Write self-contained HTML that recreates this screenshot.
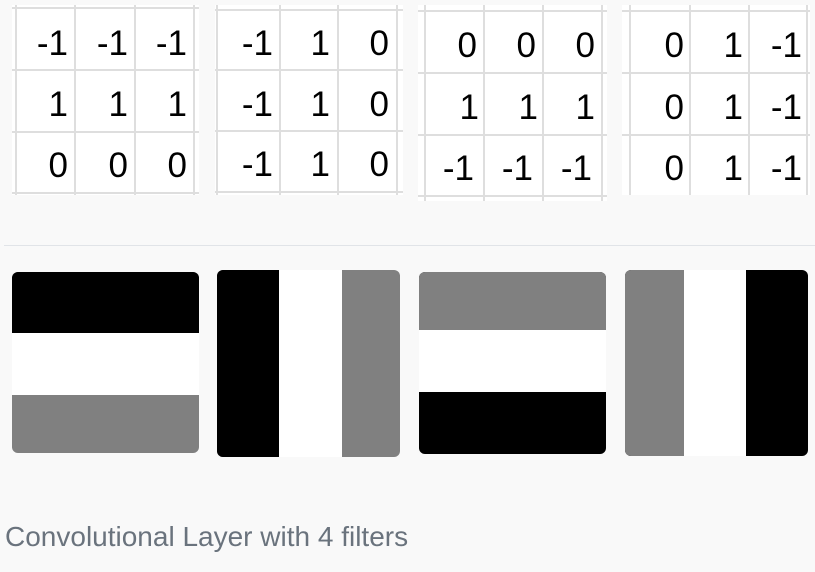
<!DOCTYPE html>
<html><head><meta charset="utf-8"><style>
body{margin:0;width:815px;height:572px;background:#f9f9f9;position:relative;overflow:hidden;font-family:"Liberation Sans",sans-serif}
.t{position:absolute;background:#fff}
.v{position:absolute;width:2px;background:#dedede}
.h{position:absolute;height:2px;background:#dedede}
.n{position:absolute;font-size:35px;color:#000;text-align:right;width:56px;line-height:40px}
.img{position:absolute;border-radius:6px;overflow:hidden}
.img div{position:absolute}
</style></head><body>

<div class="t" style="left:12px;top:5px;width:187px;height:190px"></div>
<div class="v" style="left:15px;top:5px;height:190px"></div>
<div class="v" style="left:74px;top:5px;height:190px"></div>
<div class="v" style="left:134px;top:5px;height:190px"></div>
<div class="v" style="left:193px;top:5px;height:190px"></div>
<div class="h" style="left:12px;top:7px;width:187px"></div>
<div class="h" style="left:12px;top:69px;width:187px"></div>
<div class="h" style="left:12px;top:131px;width:187px"></div>
<div class="h" style="left:12px;top:192px;width:187px"></div>

<div class="t" style="left:215px;top:5px;width:188px;height:190px"></div>
<div class="v" style="left:216px;top:5px;height:190px"></div>
<div class="v" style="left:279px;top:5px;height:190px"></div>
<div class="v" style="left:337px;top:5px;height:190px"></div>
<div class="v" style="left:396px;top:5px;height:190px"></div>
<div class="h" style="left:215px;top:9px;width:188px"></div>
<div class="h" style="left:215px;top:69px;width:188px"></div>
<div class="h" style="left:215px;top:130px;width:188px"></div>
<div class="h" style="left:215px;top:191px;width:188px"></div>

<div class="t" style="left:418px;top:5px;width:189px;height:196px"></div>
<div class="v" style="left:424px;top:5px;height:196px"></div>
<div class="v" style="left:483px;top:5px;height:196px"></div>
<div class="v" style="left:542px;top:5px;height:196px"></div>
<div class="v" style="left:601px;top:5px;height:196px"></div>
<div class="h" style="left:418px;top:10px;width:189px"></div>
<div class="h" style="left:418px;top:72px;width:189px"></div>
<div class="h" style="left:418px;top:134px;width:189px"></div>
<div class="h" style="left:418px;top:195px;width:189px"></div>

<div class="t" style="left:622px;top:5px;width:188px;height:190px"></div>
<div class="v" style="left:629px;top:5px;height:190px"></div>
<div class="v" style="left:689px;top:5px;height:190px"></div>
<div class="v" style="left:748px;top:5px;height:190px"></div>
<div class="v" style="left:806px;top:5px;height:190px"></div>
<div class="h" style="left:622px;top:10px;width:188px"></div>
<div class="h" style="left:622px;top:72px;width:188px"></div>
<div class="h" style="left:622px;top:134px;width:188px"></div>

<div class="n" style="left:12px;top:24px">-1</div><div class="n" style="left:72px;top:24px">-1</div><div class="n" style="left:131px;top:24px">-1</div>
<div class="n" style="left:12px;top:85px">1</div><div class="n" style="left:72px;top:85px">1</div><div class="n" style="left:131px;top:85px">1</div>
<div class="n" style="left:12px;top:146px">0</div><div class="n" style="left:72px;top:146px">0</div><div class="n" style="left:131px;top:146px">0</div>
<div class="n" style="left:217px;top:24px">-1</div><div class="n" style="left:274px;top:24px">1</div><div class="n" style="left:333px;top:24px">0</div>
<div class="n" style="left:217px;top:85px">-1</div><div class="n" style="left:274px;top:85px">1</div><div class="n" style="left:333px;top:85px">0</div>
<div class="n" style="left:217px;top:145px">-1</div><div class="n" style="left:274px;top:145px">1</div><div class="n" style="left:333px;top:145px">0</div>
<div class="n" style="left:421px;top:26px">0</div><div class="n" style="left:480px;top:26px">0</div><div class="n" style="left:539px;top:26px">0</div>
<div class="n" style="left:423px;top:88px">1</div><div class="n" style="left:482px;top:88px">1</div><div class="n" style="left:539px;top:88px">1</div>
<div class="n" style="left:418px;top:149px">-1</div><div class="n" style="left:477px;top:149px">-1</div><div class="n" style="left:536px;top:149px">-1</div>
<div class="n" style="left:628px;top:26px">0</div><div class="n" style="left:687px;top:26px">1</div><div class="n" style="left:746px;top:26px">-1</div>
<div class="n" style="left:628px;top:88px">0</div><div class="n" style="left:687px;top:88px">1</div><div class="n" style="left:746px;top:88px">-1</div>
<div class="n" style="left:628px;top:149px">0</div><div class="n" style="left:687px;top:149px">1</div><div class="n" style="left:746px;top:149px">-1</div>

<div style="position:absolute;left:4px;top:245px;width:811px;height:1px;background:#e1e4e8"></div>

<div class="img" style="left:12px;top:272px;width:187px;height:181px;background:#808080">
<div style="left:0;top:0;width:187px;height:61px;background:#000"></div>
<div style="left:0;top:61px;width:187px;height:62px;background:#fff"></div>
</div>
<div class="img" style="left:217px;top:270px;width:183px;height:187px;background:#808080">
<div style="left:0;top:0;width:62px;height:187px;background:#000"></div>
<div style="left:62px;top:0;width:63px;height:187px;background:#fff"></div>
</div>
<div class="img" style="left:419px;top:272px;width:187px;height:182px;background:#000">
<div style="left:0;top:0;width:187px;height:58px;background:#808080"></div>
<div style="left:0;top:58px;width:187px;height:62px;background:#fff"></div>
</div>
<div class="img" style="left:625px;top:270px;width:183px;height:186px;background:#000">
<div style="left:0;top:0;width:59px;height:186px;background:#808080"></div>
<div style="left:59px;top:0;width:62px;height:186px;background:#fff"></div>
</div>

<div style="position:absolute;left:5px;top:521px;font-size:28px;color:#6a737d;white-space:nowrap">Convolutional Layer with 4 filters</div>
</body></html>
